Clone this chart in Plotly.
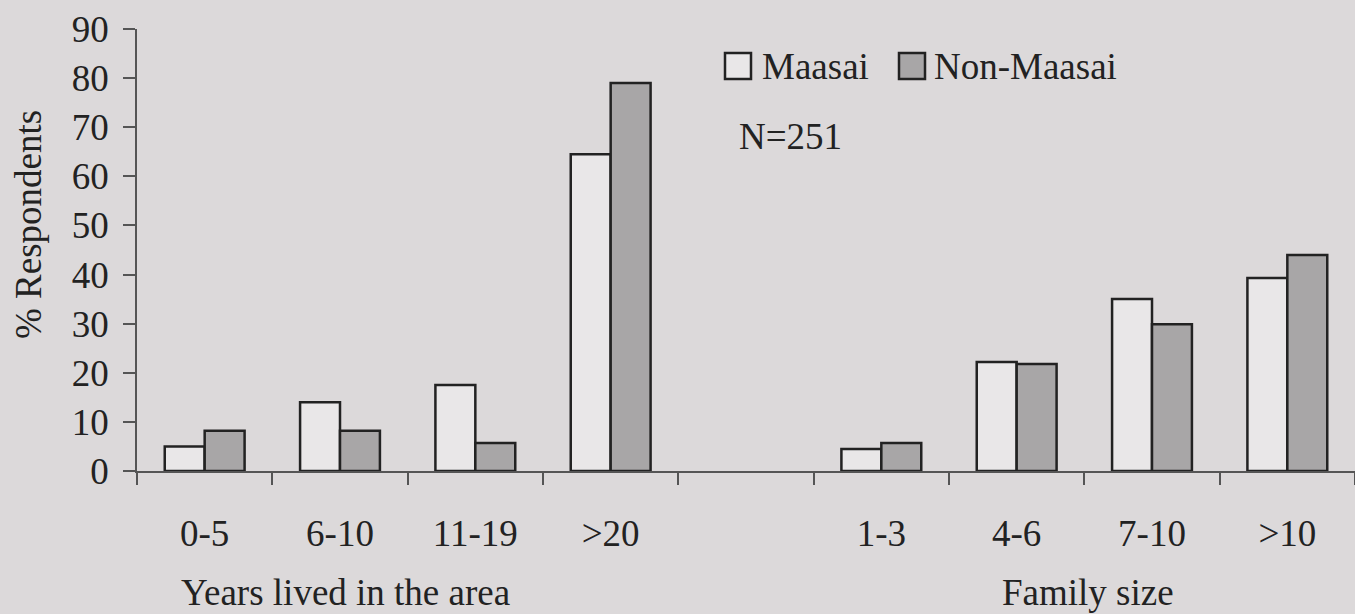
import plotly.graph_objects as go

categories = ["0-5", "6-10", "11-19", ">20", " ", "1-3", "4-6", "7-10", ">10"]
maasai = [5.0, 14.0, 17.5, 64.5, None, 4.5, 22.2, 35.0, 39.3]
non_maasai = [8.2, 8.2, 5.7, 79.0, None, 5.7, 21.8, 29.9, 44.0]
y_ticks = [0, 10, 20, 30, 40, 50, 60, 70, 80, 90]

BG = "#dcd9da"
INK = "#222222"
AXIS = "#555555"
FONT = "Liberation Serif, Times New Roman, serif"
WHITE_FILL = "#e9e7e8"
GREY_FILL = "#a8a6a7"
FS = 37

fig = go.Figure()
fig.add_trace(go.Bar(x=categories, y=maasai, name="Maasai",
                     marker=dict(color=WHITE_FILL, line=dict(color=INK, width=2.5)),
                     showlegend=False))
fig.add_trace(go.Bar(x=categories, y=non_maasai, name="Non-Maasai",
                     marker=dict(color=GREY_FILL, line=dict(color=INK, width=2.5)),
                     showlegend=False))

W, H = 1355, 614
L, R, T, B = 137, 0, 29, 143
pw, ph = W - L - R, H - T - B

def px(x):
    return (x - L) / pw

def py(y):
    return (H - B - y) / ph

fig.update_layout(
    width=W, height=H,
    margin=dict(l=L, r=R, t=T, b=B),
    paper_bgcolor=BG, plot_bgcolor=BG,
    barmode="group", bargap=0.41, bargroupgap=0,
    font=dict(family=FONT, size=FS, color=INK),
    xaxis=dict(
        type="category", categoryorder="array", categoryarray=categories,
        range=[-0.5, 8.5], tickson="boundaries",
        showline=True, linecolor=AXIS, linewidth=1.5,
        ticks="outside", ticklen=12, tickwidth=1.5, tickcolor=AXIS,
        showgrid=False, zeroline=False,
        tickfont=dict(family=FONT, size=FS, color=INK),
        ticklabelstandoff=29,
    ),
    yaxis=dict(
        range=[0, 90], tickvals=y_ticks,
        showline=True, linecolor=AXIS, linewidth=1.5,
        ticks="outside", ticklen=12, tickwidth=1.5, tickcolor=AXIS,
        showgrid=False, zeroline=False,
        tickfont=dict(family=FONT, size=FS, color=INK),
        ticklabelstandoff=7,
    ),
)

# axis titles
fig.add_annotation(text="% Respondents", xref="paper", yref="paper",
                   x=px(28), y=py(225), textangle=-90, showarrow=False,
                   xanchor="center", yanchor="middle",
                   font=dict(family=FONT, size=FS, color=INK))
fig.add_annotation(text="Years lived in the area", xref="paper", yref="paper",
                   x=px(345), y=py(592), showarrow=False,
                   xanchor="center", yanchor="middle",
                   font=dict(family=FONT, size=FS, color=INK))
fig.add_annotation(text="Family size", xref="paper", yref="paper",
                   x=px(1088), y=py(592), showarrow=False,
                   xanchor="center", yanchor="middle",
                   font=dict(family=FONT, size=FS, color=INK))

# legend (custom, to match the large key boxes)
for (x0, label, fill, tx) in [(725, "Maasai", WHITE_FILL, 760), (899, "Non-Maasai", GREY_FILL, 932)]:
    fig.add_shape(type="rect", xref="paper", yref="paper",
                  x0=px(x0), x1=px(x0 + 26), y0=py(79), y1=py(53),
                  fillcolor=fill, line=dict(color=INK, width=2.5))
    fig.add_annotation(text=label, xref="paper", yref="paper",
                       x=px(tx), y=py(66), showarrow=False,
                       xanchor="left", yanchor="middle",
                       font=dict(family=FONT, size=FS, color=INK))

fig.add_annotation(text="N=251", xref="paper", yref="paper",
                   x=px(737), y=py(136), showarrow=False,
                   xanchor="left", yanchor="middle",
                   font=dict(family=FONT, size=FS, color=INK))

fig.write_html("out.html",
               config={"displayModeBar": False},
               post_script="document.body.style.margin='0';document.body.style.background='" + BG + "';")
